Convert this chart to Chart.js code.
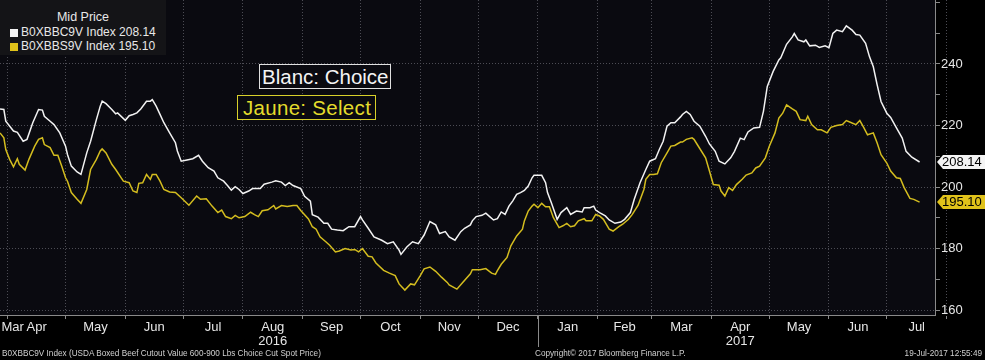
<!DOCTYPE html>
<html>
<head>
<meta charset="utf-8">
<script src="https://cdn.jsdelivr.net/npm/chart.js@4.4.0/dist/chart.umd.min.js"></script>
<style>
  body { margin: 0; background: #000; }
  #wrap { position: relative; width: 985px; height: 360px; font-family: 'Liberation Sans', Arial, sans-serif; overflow: hidden; }
  #c { position: absolute; left: 0; top: 0; }
  .legend { position: absolute; left: 0; top: 0; width: 166px; height: 55px; background: #141417; color: #e8e8e8; font-size: 12px; line-height: 14.5px; white-space: nowrap; }
  .legend .ttl { text-align: center; padding-top: 10px; font-size: 12.5px; }
  .legend .row { padding-left: 21px; position: relative; }
  .legend .sq { position: absolute; left: 10px; top: 4px; width: 8px; height: 8px; }
  .note { position: absolute; font-size: 20.5px; line-height: 22px; padding: 1px 2px 0 2px; background: #0a0a10; white-space: nowrap; }
  .foot { position: absolute; top: 349px; font-size: 8.2px; color: #d0d0d0; white-space: nowrap; }
</style>
</head>
<body>
<div id="wrap">
  <canvas id="c" width="985" height="360"></canvas>
  <div class="legend">
    <div class="ttl">Mid Price</div>
    <div class="row"><span class="sq" style="background:#f4f4f4"></span>B0XBBC9V Index 208.14</div>
    <div class="row"><span class="sq" style="background:#e0c21a"></span>B0XBBS9V Index 195.10</div>
  </div>
  <div class="note" style="left:259px; top:64px; color:#f4f4f4; border:1px solid #e0e0e0;">Blanc: Choice</div>
  <div class="note" style="left:237px; top:95px; padding-left:5px; padding-right:4px; letter-spacing:0.3px; color:#e4dc2c; border:1px solid #d8d02a;">Jaune: Select</div>
  <div class="foot" style="left:2px;">B0XBBC9V Index (USDA Boxed Beef Cutout Value 600-900 Lbs Choice Cut Spot Price)</div>
  <div class="foot" style="left:535px;">Copyright© 2017 Bloomberg Finance L.P.</div>
  <div class="foot" style="right:3px;">19-Jul-2017 12:55:49</div>
</div>
<script>
// days are counted from 2016-04-01
const monthStarts = [0, 30, 61, 91, 122, 153, 183, 214, 244, 275, 306, 334, 365, 395, 426, 456, 487];
const monthNames = [['Apr'], ['May'], ['Jun'], ['Jul'], ['Aug', '2016'], ['Sep'], ['Oct'], ['Nov'], ['Dec'],
  ['Jan'], ['Feb'], ['Mar'], ['Apr', '2017'], ['May'], ['Jun'], ['Jul']];
const yTicks = [160, 180, 200, 220, 240];

// B0XBBC9V - Choice
const choiceDays = [-4, -2, -1, 3, 5, 8, 10, 13, 16, 18, 19, 22, 24, 27, 30, 31, 33, 36, 38, 41, 43, 46, 48, 49, 51, 54, 56, 57, 61, 63, 65, 67, 69, 72, 74, 75, 77, 79, 81, 84, 87, 88, 90, 93, 96, 99, 101, 104, 107, 109, 112, 114, 116, 118, 120,
  122, 125, 127, 131, 133, 137, 139, 142, 144, 146, 148, 152, 154, 157, 158, 161, 164, 166, 168, 171, 174, 177, 178, 180, 183, 184, 187, 190, 194, 197, 200, 203, 204, 207, 210, 213, 216, 219, 222, 224, 227, 229, 232, 235, 237, 240,
  241, 243, 246, 248, 250, 252, 254, 256, 258, 260, 262, 264, 266, 268, 270, 272, 273, 277, 279, 280, 282, 285, 287, 290, 292, 295, 298, 299, 302, 304, 305, 307, 310, 312, 315, 318, 320, 323, 325, 328, 331, 333, 336, 338, 340, 342, 344, 346, 349, 350, 352, 354, 356, 359,
  362, 364, 367, 369, 372, 375, 377, 380, 382, 384, 387, 390, 392, 394, 397, 400, 401, 404, 407, 408, 410, 413, 414, 416, 419, 421, 424, 426, 428, 430, 433, 435, 438, 440, 442, 445, 447, 449, 451, 453, 456, 458, 461, 464, 466, 469, 473];
const choiceVals = [225.4, 225.2, 221.4, 218.2, 217.8, 214.9, 215.5, 220.9, 225.2, 225.0, 223.0, 221.4, 220.3, 217.6, 213.3, 210.6, 206.8, 204.9, 204.1, 211.1, 214.9, 221.9, 226.3, 227.9, 227.1, 225.2, 223.8, 224.1, 221.7, 223.2, 223.6, 224.1, 225.4, 227.9, 227.9, 228.4, 226.3, 223.6, 220.9, 217.6, 214.4, 211.7, 208.4, 208.8, 209.2, 210.3, 208.4, 206.3, 205.2, 203.0, 201.9, 200.5, 199.0, 200.1, 199.2,
  197.9, 198.7, 199.5, 199.5, 200.9, 201.6, 202.0, 201.6, 200.5, 201.4, 200.5, 199.5, 197.0, 195.4, 191.0, 190.2, 188.2, 188.2, 186.3, 186.0, 185.8, 187.1, 187.1, 187.1, 190.4, 189.3, 186.6, 183.8, 182.7, 181.6, 182.2, 179.5, 178.1, 180.5, 182.2, 181.6, 184.4, 188.8, 187.7, 184.9, 185.5, 183.8, 182.7, 185.5, 186.6, 187.7,
  189.0, 190.4, 190.8, 191.5, 190.4, 189.3, 189.7, 191.9, 191.1, 193.8, 195.5, 197.6, 198.2, 198.9, 200.3, 203.0, 203.8, 203.8, 201.4, 198.2, 194.9, 189.5, 191.7, 193.3, 191.1, 192.2, 191.9, 193.3, 193.3, 193.8, 192.5, 191.7, 190.6, 189.3, 188.2, 188.6, 189.5, 191.7, 196.0, 201.4, 205.7, 208.4, 209.2, 212.2, 214.9, 219.8, 220.9, 220.9, 222.8, 223.6, 224.6, 223.6, 221.4, 219.8,
  216.5, 214.0, 211.6, 208.4, 207.5, 209.5, 211.6, 215.9, 215.4, 217.9, 219.2, 219.4, 224.6, 232.7, 237.5, 241.3, 242.0, 246.4, 248.8, 249.9, 247.8, 247.2, 247.8, 245.9, 246.1, 245.4, 245.9, 245.3, 249.9, 251.0, 250.5, 252.4, 251.0, 249.6, 249.4, 246.7, 242.4, 239.1, 233.2, 227.8, 224.0, 222.6, 219.2, 215.9, 211.6, 209.7, 208.14];

// B0XBBS9V - Select
const selectDays = [-4, -2, -1, 1, 3, 5, 6, 9, 11, 14, 16, 18, 19, 22, 24, 26, 28, 30, 31, 33, 36, 38, 41, 43, 46, 48, 49, 51, 54, 56, 60, 63, 65, 67, 68, 70, 72, 74, 75, 77, 79, 81, 84, 87, 90, 94, 98, 100, 103, 106, 109, 111, 113, 116, 118, 120,
  123, 126, 128, 130, 132, 135, 138, 139, 142, 145, 148, 150, 152, 156, 158, 160, 162, 165, 167, 170, 172, 175, 178, 180, 182, 184, 187, 189, 191, 195, 198, 201, 203, 206, 209, 211, 214, 216, 219, 222, 225, 228, 229, 233, 236, 240,
  241, 245, 248, 251, 253, 254, 256, 259, 261, 264, 267, 268, 270, 272, 273, 275, 277, 279, 281, 283, 286, 288, 290, 292, 294, 296, 299, 300, 303, 305, 307, 309, 311, 312, 314, 317, 319, 322, 324, 327, 330, 331, 333, 335, 337, 339, 342, 344, 346, 349, 350, 352, 355, 356, 358,
  362, 364, 366, 369, 370, 372, 374, 376, 378, 381, 383, 386, 388, 390, 393, 395, 398, 400, 402, 404, 407, 409, 411, 414, 415, 417, 420, 422, 425, 427, 430, 433, 435, 438, 440, 442, 444, 446, 449, 451, 453, 456, 458, 461, 463, 465, 468, 470, 473];
const selectVals = [217.6, 216.0, 212.2, 209.0, 206.6, 209.2, 207.4, 205.5, 209.0, 213.3, 215.5, 216.0, 213.8, 212.8, 210.3, 210.3, 206.8, 203.0, 201.9, 198.2, 196.0, 194.7, 199.2, 205.7, 209.0, 211.7, 212.4, 211.1, 207.4, 205.7, 201.9, 201.4, 198.7, 198.2, 201.2, 201.4, 204.1, 202.5, 204.1, 204.1, 201.9, 199.2, 198.4, 198.2, 196.5, 194.1, 197.1, 196.0, 196.2, 193.8, 191.7, 192.5, 190.4, 189.7, 190.8, 190.0,
  190.4, 191.8, 191.0, 190.4, 192.3, 192.6, 194.0, 192.9, 194.0, 193.7, 194.0, 194.0, 192.4, 189.6, 187.1, 186.3, 183.8, 182.2, 181.1, 178.9, 179.2, 180.0, 179.5, 179.7, 178.9, 180.0, 177.5, 177.3, 175.3, 172.9, 172.0, 171.2, 168.5, 166.5, 168.5, 168.2, 171.2, 173.4, 174.0, 172.6, 170.7, 169.0, 168.2, 166.8, 169.0, 171.8,
  173.1, 173.1, 173.5, 172.0, 171.6, 172.8, 174.9, 177.1, 180.9, 184.1, 186.3, 189.0, 192.2, 193.8, 194.4, 193.3, 194.7, 193.6, 193.6, 190.1, 186.8, 187.4, 188.2, 187.1, 187.4, 189.0, 189.7, 189.0, 189.0, 191.1, 190.6, 189.5, 187.4, 186.3, 185.7, 187.1, 187.9, 189.5, 191.1, 194.1, 199.2, 202.5, 204.1, 204.1, 204.3, 207.9, 211.1, 213.3, 213.5, 214.6, 214.6, 215.5, 216.0, 215.5, 213.5,
  209.5, 205.2, 200.8, 200.6, 198.7, 197.1, 199.8, 198.9, 200.8, 202.5, 203.9, 204.6, 206.2, 206.8, 209.5, 213.2, 217.6, 222.4, 224.0, 226.7, 225.4, 224.6, 221.9, 221.6, 223.0, 220.3, 218.6, 218.6, 217.6, 219.4, 220.0, 220.3, 221.6, 220.8, 220.3, 221.6, 219.4, 217.0, 217.6, 214.3, 210.5, 207.8, 205.2, 203.0, 202.8, 199.8, 196.3, 196.0, 195.10];

// month labels sit in the middle of each month, the cut-off March one hugs the left edge
const labelDays = [2.6];
const labelTexts = [['Mar']];
for (let i = 0; i < monthNames.length; i++) {
  labelDays.push((monthStarts[i] + monthStarts[i + 1]) / 2);
  labelTexts.push(monthNames[i]);
}

const toPoints = (days, vals) => days.map((d, i) => ({ x: d, y: vals[i] }));

const plotBg = {
  id: 'plotBg',
  beforeDraw(chart) {
    const { ctx, chartArea: a } = chart;
    ctx.save();
    ctx.fillStyle = '#0a0a10';
    ctx.fillRect(a.left, a.top, a.right - a.left, a.bottom - a.top);
    ctx.restore();
  }
};

// last value tags on the right axis + year separator under Jan
const extras = {
  id: 'extras',
  afterDraw(chart) {
    const ctx = chart.ctx;
    const y = chart.scales.y;
    const x = chart.scales.x;
    const x0 = chart.chartArea.right + 2;
    ctx.save();
    chart.data.datasets.forEach(ds => {
      const v = ds.data[ds.data.length - 1].y;
      const py = Math.round(y.getPixelForValue(v));
      ctx.fillStyle = ds.tagColor;
      ctx.beginPath();
      ctx.moveTo(x0, py);
      ctx.lineTo(x0 + 6, py - 7);
      ctx.lineTo(985, py - 7);
      ctx.lineTo(985, py + 7);
      ctx.lineTo(x0 + 6, py + 7);
      ctx.closePath();
      ctx.fill();
      ctx.fillStyle = '#000';
      ctx.font = '13px "Liberation Sans", Arial, sans-serif';
      ctx.textBaseline = 'middle';
      ctx.fillText(v.toFixed(2), x0 + 5, py + 0.5);
    });
    const jx = Math.round(x.getPixelForValue(monthStarts[9])) + 0.5;
    ctx.strokeStyle = '#8a8a8a';
    ctx.lineWidth = 1;
    ctx.beginPath();
    ctx.moveTo(jx, chart.chartArea.bottom);
    ctx.lineTo(jx, 347);
    ctx.stroke();
    ctx.restore();
  }
};

const noPad = s => { s.paddingLeft = 0; s.paddingRight = 0; s.paddingTop = 0; s.paddingBottom = 0; };

new Chart(document.getElementById('c'), {
  type: 'line',
  data: {
    datasets: [
      { label: 'B0XBBC9V Index', data: toPoints(choiceDays, choiceVals), borderColor: '#f2f2f2', borderWidth: 1.5, tagColor: '#f4f4f4' },
      { label: 'B0XBBS9V Index', data: toPoints(selectDays, selectVals), borderColor: '#d4bd1f', borderWidth: 1.5, tagColor: '#e0c21a' }
    ]
  },
  options: {
    responsive: false,
    animation: false,
    events: [],
    layout: { padding: 0 },
    elements: { point: { radius: 0 }, line: { tension: 0 } },
    plugins: { legend: { display: false }, tooltip: { enabled: false } },
    scales: {
      x: {
        type: 'linear', position: 'bottom', weight: 0,
        min: -4, max: 481,
        afterBuildTicks: s => { s.ticks = monthStarts.map(v => ({ value: v })); },
        afterFit: s => { s.height = 4; noPad(s); },
        ticks: { display: false },
        grid: { color: '#4c4c54', tickColor: '#8a8a8a', tickLength: 4, lineWidth: 1 },
        border: { color: '#8a8a8a', dash: [1, 2] }
      },
      x2: {
        type: 'linear', position: 'bottom', weight: 1,
        min: -4, max: 481,
        afterBuildTicks: s => { s.ticks = labelDays.map(v => ({ value: v })); },
        afterFit: s => { s.height = 41; noPad(s); },
        ticks: {
          autoSkip: false, maxRotation: 0, minRotation: 0, padding: -7,
          color: '#e6e6e6',
          font: { family: '"Liberation Sans", Arial, sans-serif', size: 13, lineHeight: 1.1 },
          callback: (v, i) => labelTexts[i]
        },
        grid: { display: false },
        border: { display: false }
      },
      y: {
        type: 'linear', position: 'right',
        min: 158.4, max: 260.8,
        ticks: {
          stepSize: 10, includeBounds: false, padding: 1,
          color: '#e6e6e6',
          font: { family: '"Liberation Sans", Arial, sans-serif', size: 13 },
          callback: v => (yTicks.includes(v) ? String(v) : '')
        },
        afterFit: s => { s.width = 50; noPad(s); },
        grid: {
          color: c => (c.tick && yTicks.includes(c.tick.value)) ? '#4c4c54' : 'rgba(0,0,0,0)',
          tickColor: '#8a8a8a', tickLength: 5
        },
        border: { color: '#8a8a8a', dash: [1, 2] }
      }
    }
  },
  plugins: [plotBg, extras]
});
</script>
</body>
</html>
